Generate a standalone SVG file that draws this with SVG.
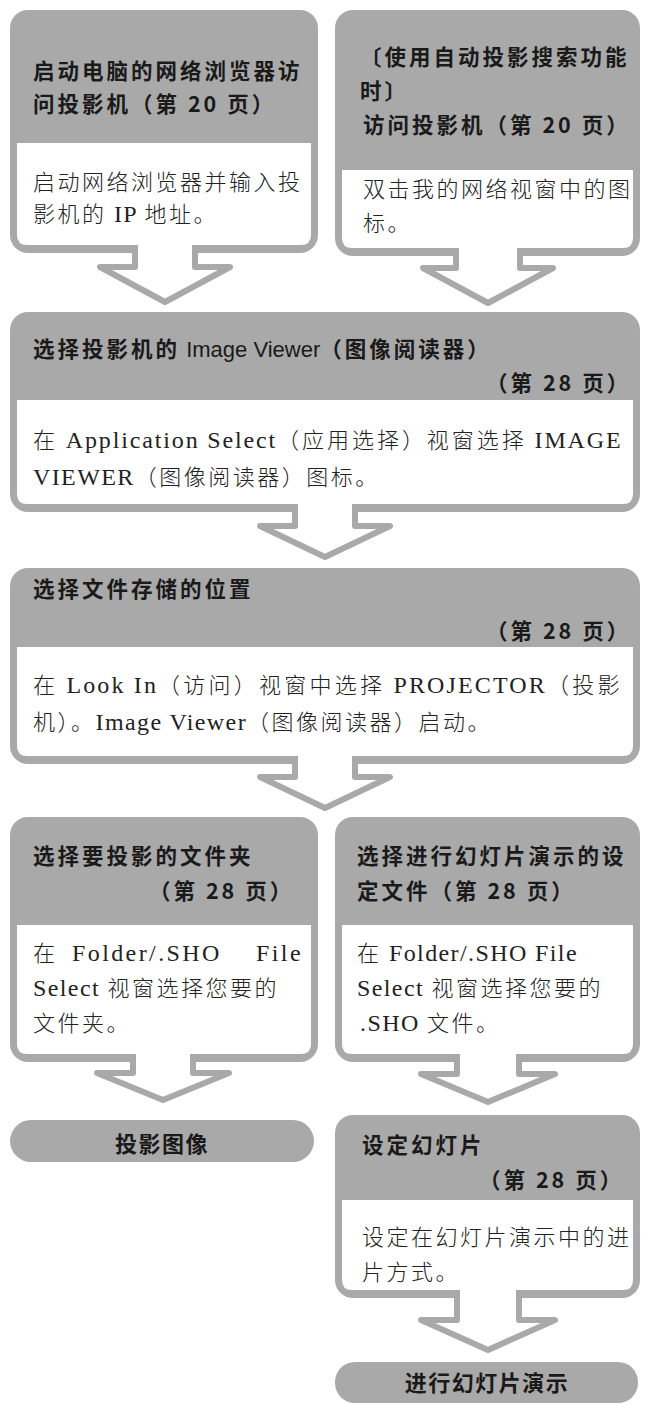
<svg xmlns="http://www.w3.org/2000/svg" width="645" height="1404" viewBox="0 0 645 1404">
<style>
.outer{fill:#a9a9a9}
.inner{fill:#ffffff}
.h{font-family:"Noto Sans CJK SC","Noto Sans",sans-serif;font-size:21.5px;font-weight:700;fill:#1a1a1a;letter-spacing:3px}
.hl{font-family:"Liberation Sans","Noto Sans",sans-serif;font-weight:400;font-size:22px;letter-spacing:0}
.b{font-family:"Liberation Serif","Noto Sans CJK SC",serif;font-size:22px;font-weight:300;fill:#222;letter-spacing:2.5px}
.bl{font-size:24px;letter-spacing:1.4px}
.bw{letter-spacing:2.4px}
.p{font-family:"Noto Sans CJK SC","Noto Sans",sans-serif;font-size:22px;font-weight:700;fill:#1a1a1a;letter-spacing:1.5px;text-anchor:middle}
.arr{fill:#ffffff;stroke:#a9a9a9;stroke-width:6;stroke-linejoin:round;stroke-linecap:butt}
</style>
<rect width="645" height="1404" fill="#ffffff"/>
<g id="node-a">
<rect class="outer" x="10" y="10" width="308" height="243" rx="18"/>
<path class="inner" d="M17,143 H311 V235 Q311,245 301,245 H27 Q17,245 17,235 Z"/>
<text class="h" x="33" y="79">启动电脑的网络浏览器访</text>
<text class="h" x="33" y="112">问投影机（第 20 页）</text>
<text class="b" x="33" y="190">启动网络浏览器并输入投</text>
<text class="b" x="33" y="222">影机的<tspan class="bl"> IP </tspan>地址。</text>
</g>
<g id="node-b">
<rect class="outer" x="335" y="10" width="305" height="246" rx="18"/>
<path class="inner" d="M342,170 H633 V238 Q633,248 623,248 H352 Q342,248 342,238 Z"/>
<text class="h" x="360" y="65">〔使用自动投影搜索功能</text>
<text class="h" x="360" y="99">时〕</text>
<text class="h" x="363" y="133">访问投影机（第 20 页）</text>
<text class="b" x="363" y="197">双击我的网络视窗中的图</text>
<text class="b" x="363" y="231">标。</text>
</g>
<g id="node-c">
<rect class="outer" x="10" y="312" width="630" height="200" rx="18"/>
<path class="inner" d="M17,400 H633 V494 Q633,504 623,504 H27 Q17,504 17,494 Z"/>
<text class="h" x="33" y="357">选择投影机的<tspan class="hl"> Image Viewer</tspan>（图像阅读器）</text>
<text class="h" x="486" y="391">（第 28 页）</text>
<text class="b" x="33" y="448" textLength="589" lengthAdjust="spacing">在<tspan class="bl"> Application Select</tspan>（应用选择）视窗选择<tspan class="bl"> IMAGE</tspan></text>
<text class="b" x="33" y="485"><tspan class="bl">VIEWER</tspan>（图像阅读器）图标。</text>
</g>
<g id="node-d">
<rect class="outer" x="10" y="568" width="630" height="196" rx="18"/>
<path class="inner" d="M17,647 H633 V746 Q633,756 623,756 H27 Q17,756 17,746 Z"/>
<text class="h" x="33" y="597">选择文件存储的位置</text>
<text class="h" x="486" y="639">（第 28 页）</text>
<text class="b" x="33" y="693" textLength="589" lengthAdjust="spacing">在<tspan class="bl"> Look In</tspan>（访问）视窗中选择<tspan class="bl"> PROJECTOR</tspan>（投影</text>
<text class="b" x="33" y="730">机）。<tspan class="bl">Image Viewer</tspan>（图像阅读器）启动。</text>
</g>
<g id="node-e">
<rect class="outer" x="10" y="817" width="308" height="245" rx="18"/>
<path class="inner" d="M17,925 H311 V1044 Q311,1054 301,1054 H27 Q17,1054 17,1044 Z"/>
<text class="h" x="33" y="864">选择要投影的文件夹</text>
<text class="h" x="149" y="899">（第 28 页）</text>
<text class="b" x="33" y="961">在<tspan class="bl bw" x="72">Folder/.SHO</tspan><tspan class="bl bw" x="256">File</tspan></text>
<text class="b" x="33" y="996"><tspan class="bl">Select </tspan>视窗选择您要的</text>
<text class="b" x="33" y="1031">文件夹。</text>
</g>
<g id="node-f">
<rect class="outer" x="335" y="817" width="305" height="245" rx="18"/>
<path class="inner" d="M342,925 H633 V1044 Q633,1054 623,1054 H352 Q342,1054 342,1044 Z"/>
<text class="h" x="357" y="864">选择进行幻灯片演示的设</text>
<text class="h" x="357" y="899">定文件（第 28 页）</text>
<text class="b" x="357" y="961">在<tspan class="bl"> Folder/.SHO File</tspan></text>
<text class="b" x="357" y="996"><tspan class="bl">Select </tspan>视窗选择您要的</text>
<text class="b" x="360" y="1031"><tspan class="bl">.SHO </tspan>文件。</text>
</g>
<g id="node-g">
<rect class="outer" x="335" y="1115" width="305" height="183" rx="18"/>
<path class="inner" d="M342,1200 H633 V1280 Q633,1290 623,1290 H352 Q342,1290 342,1280 Z"/>
<text class="h" x="362" y="1153">设定幻灯片</text>
<text class="h" x="479" y="1188">（第 28 页）</text>
<text class="b" x="362" y="1245">设定在幻灯片演示中的进</text>
<text class="b" x="362" y="1280">片方式。</text>
</g>
<g id="node-project">
<rect class="outer" x="10" y="1120" width="304" height="42" rx="21"/>
<text class="p" x="162" y="1152">投影图像</text>
</g>
<g id="node-slideshow">
<rect class="outer" x="335" y="1362" width="303" height="41" rx="20"/>
<text class="p" x="487" y="1391">进行幻灯片演示</text>
</g>
<g id="connectors">
<path class="arr" d="M135,245 V267 H100 L165,302 L230,267 H195 V245"/>
<path class="arr" d="M456,248 V268 H423 L488,303 L553,268 H520 V248"/>
<path class="arr" d="M295,504 V526 H260 L325,557 L390,526 H355 V504"/>
<path class="arr" d="M295,756 V777 H260 L325,808 L390,777 H355 V756"/>
<path class="arr" d="M133,1054 V1073 H97 L163,1100 L229,1073 H193 V1054"/>
<path class="arr" d="M457,1054 V1074 H421 L488,1102 L555,1074 H519 V1054"/>
<path class="arr" d="M457,1290 V1320 H421 L488,1350 L555,1320 H519 V1290"/>
</g>
</svg>
